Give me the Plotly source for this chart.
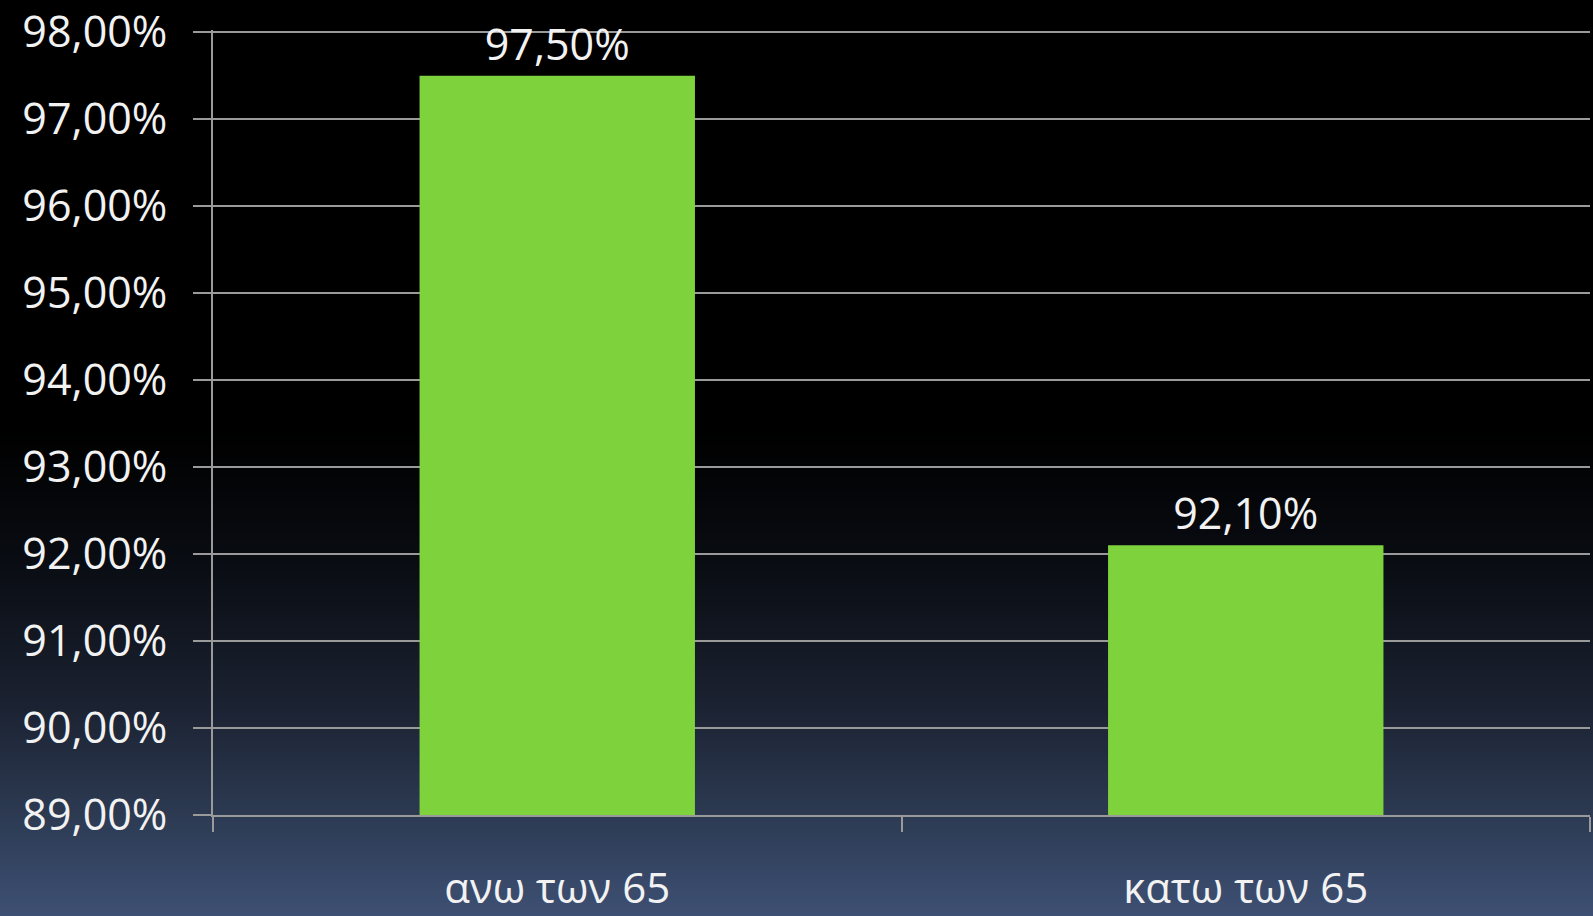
import plotly.graph_objects as go

categories = ["ανω των 65", "κατω των 65"]
values = [97.5, 92.1]
y_ticks = [89, 90, 91, 92, 93, 94, 95, 96, 97, 98]

labels = [f"{v:.2f}%".replace(".", ",") for v in values]
tick_text = [f"{v:.2f}%".replace(".", ",") for v in y_ticks]

W, H = 1593, 916
ML, MR, MT, MB = 213, 3, 30, 101
plot_h = H - MT - MB

def px_to_paper(ypx):
    return (H - MB - ypx) / plot_h

# background gradient stops (pixel y, rgb)
stops = [(0, (0, 0, 0)), (430, (0, 0, 0)), (560, (9, 12, 18)), (700, (26, 33, 48)),
         (815, (44, 58, 82)), (916, (62, 80, 116))]

def color_at(y):
    for (y0, c0), (y1, c1) in zip(stops[:-1], stops[1:]):
        if y0 <= y <= y1:
            t = (y - y0) / (y1 - y0) if y1 > y0 else 0
            return tuple(round(a + (b - a) * t) for a, b in zip(c0, c1))
    return stops[-1][1]

shapes = [dict(type="rect", xref="paper", yref="paper", x0=-0.2, x1=1.05,
               y0=px_to_paper(430), y1=px_to_paper(0) + 0.01, fillcolor="black",
               line=dict(width=0), layer="below")]
step = 4
for y in range(430, H + 8, step):
    c = color_at(min(y + step / 2, H))
    shapes.append(dict(type="rect", xref="paper", yref="paper", x0=-0.2, x1=1.05,
                       y0=px_to_paper(y + step + 0.5), y1=px_to_paper(y),
                       fillcolor=f"rgb({c[0]},{c[1]},{c[2]})", line=dict(width=0),
                       layer="below"))

font_family = "Open Sans, sans-serif"

fig = go.Figure(go.Bar(
    x=categories, y=values, text=labels, textposition="outside",
    textfont=dict(color="#f2f2f2", size=43, family=font_family),
    marker=dict(color="#7ed23c", line=dict(width=0)),
    cliponaxis=False, width=0.4,
))

fig.update_layout(
    width=W, height=H,
    margin=dict(l=ML, r=MR, t=MT, b=MB),
    paper_bgcolor="black", plot_bgcolor="rgba(0,0,0,0)",
    shapes=shapes, showlegend=False,
    font=dict(family=font_family, color="#f2f2f2"),
    xaxis=dict(showgrid=False, showline=True, linecolor="#9a9a9a", linewidth=2,
               ticks="outside", tickson="boundaries", ticklen=15, tickcolor="#9a9a9a",
               tickwidth=2, tickfont=dict(size=42, color="#f2f2f2"),
               ticklabelstandoff=36, automargin=False, ticklabeloverflow="allow"),
    yaxis=dict(range=[89, 98.025], tickvals=y_ticks, ticktext=tick_text,
               showgrid=True, gridcolor="#9a9a9a", gridwidth=2,
               showline=True, linecolor="#9a9a9a", linewidth=2,
               ticks="outside", ticklen=18, tickcolor="#9a9a9a", tickwidth=2,
               tickfont=dict(size=43, color="#f2f2f2"), ticklabelstandoff=17,
               zeroline=False, automargin=False, ticklabeloverflow="allow"),
)

fig.write_html("out.html", config={"displayModeBar": False},
               post_script="document.body.style.margin='0';document.body.style.background='black';")
